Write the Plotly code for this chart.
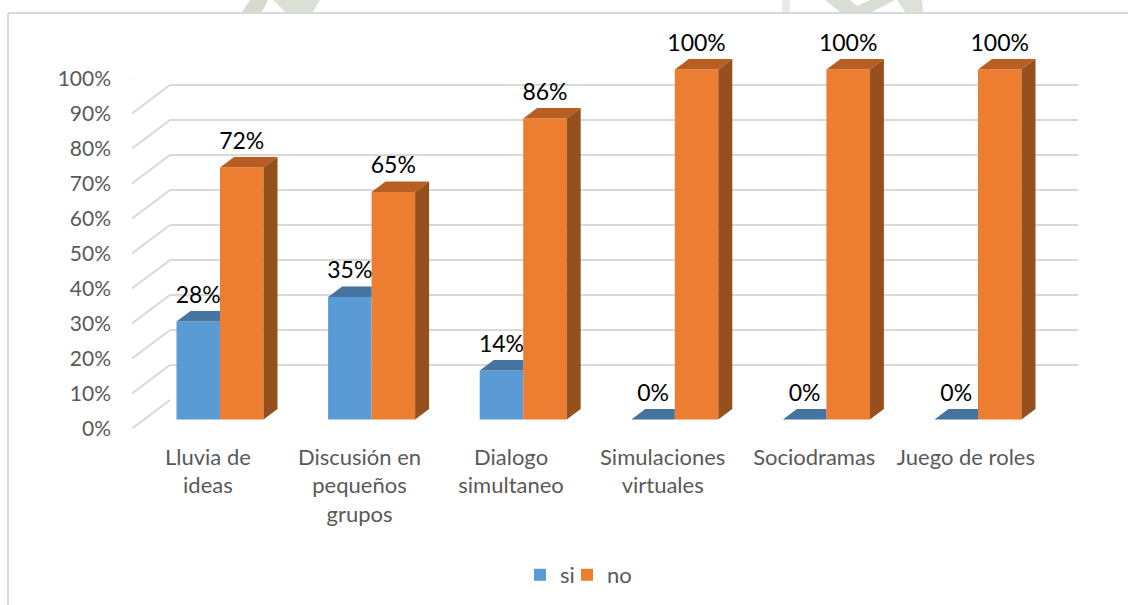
import plotly.graph_objects as go

categories = ["Lluvia de<br>ideas", "Discusión en<br>pequeños<br>grupos", "Dialogo<br>simultaneo",
              "Simulaciones<br>virtuales", "Sociodramas", "Juego de roles"]
si_values = [28, 35, 14, 0, 0, 0]
no_values = [72, 65, 86, 100, 100, 100]
percent_ticks = [0, 10, 20, 30, 40, 50, 60, 70, 80, 90, 100]

W, H = 1128, 605
STEP = 151.6      # px per category
UNIT = 3.5        # px per percent
X0 = 220          # px of first category centre
BAR = 43.5 / STEP
BAR_DX, BAR_DY = 14 / STEP, 10.5 / UNIT
WALL_DX, WALL_DY = 38 / STEP, 28.5 / UNIT
BLUE, ORANGE = "#5B9BD5", "#ED7D31"
BLUE_TOP, ORANGE_TOP, ORANGE_SIDE = "#44749F", "#B85E23", "#96501D"
GRID = "#D9D9D9"
LABEL = "#595959"
FONT = "Lato"

def xfrac(px): return px / W
def yfrac(py): return 1 - py / H
def xval(px): return (px - X0) / STEP

idx = list(range(len(categories)))
fig = go.Figure()

def poly(xs, ys, color):
    fig.add_trace(go.Scatter(x=xs, y=ys, mode="lines", fill="toself", fillcolor=color,
                             line=dict(width=0), hoverinfo="skip", showlegend=False,
                             xaxis="x2", yaxis="y2"))

# wall grid carrier (first subplot, stays below everything)
fig.add_trace(go.Scatter(x=[0], y=[0], mode="markers", marker=dict(opacity=0), hoverinfo="skip",
                         showlegend=False, xaxis="x", yaxis="y"))

# front faces
fig.add_trace(go.Bar(x=idx, y=si_values, name="si", marker=dict(color=BLUE, line=dict(width=0)),
                     xaxis="x2", yaxis="y2", legend="legend"))
fig.add_trace(go.Bar(x=idx, y=no_values, name="no", marker=dict(color=ORANGE, line=dict(width=0)),
                     xaxis="x2", yaxis="y2", legend="legend2"))

# 3D faces derived from the values
for i, s, n in zip(idx, si_values, no_values):
    # blue top, cut where the orange front begins
    poly([i - BAR, i, i, i - BAR + BAR_DX, i - BAR],
         [s, s, s + BAR_DY, s + BAR_DY, s], BLUE_TOP)
    # orange top
    poly([i, i + BAR, i + BAR + BAR_DX, i + BAR_DX, i],
         [n, n, n + BAR_DY, n + BAR_DY, n], ORANGE_TOP)
    # orange side
    poly([i + BAR, i + BAR + BAR_DX, i + BAR + BAR_DX, i + BAR, i + BAR],
         [0, BAR_DY, n + BAR_DY, n, 0], ORANGE_SIDE)

# slanted floor-to-wall grid segments
dx, dy = [], []
for t in percent_ticks:
    dx += [xval(132), xval(132) + WALL_DX, None]
    dy += [t, t + WALL_DY, None]
fig.add_trace(go.Scatter(x=dx, y=dy, mode="lines", line=dict(color=GRID, width=2),
                         hoverinfo="skip", showlegend=False, xaxis="x2", yaxis="y3"))

# value labels
LIFT = 24.5 / UNIT
fig.add_trace(go.Scatter(x=[i - BAR / 2 for i in idx], y=[v + LIFT for v in si_values],
                         text=[f"{v}%" for v in si_values], mode="text", textposition="middle center",
                         textfont=dict(family=FONT, size=23, color="black"), cliponaxis=False,
                         hoverinfo="skip", showlegend=False, xaxis="x2", yaxis="y2"))
fig.add_trace(go.Scatter(x=[i + BAR / 2 for i in idx], y=[v + LIFT for v in no_values],
                         text=[f"{v}%" for v in no_values], mode="text", textposition="middle center",
                         textfont=dict(family=FONT, size=23, color="black"), cliponaxis=False,
                         hoverinfo="skip", showlegend=False, xaxis="x2", yaxis="y2"))

frame = dict(color="#D9D9D9", width=2)

def wm(points, color):
    path = "M" + "L".join(f"{xfrac(px)},{yfrac(py)}" for px, py in points) + "Z"
    return dict(type="path", xref="paper", yref="paper", path=path, fillcolor=color,
                line=dict(width=0), layer="below")

legend_style = dict(orientation="h", xanchor="left", yanchor="middle",
                    font=dict(family=FONT, size=22, color=LABEL), bgcolor="rgba(0,0,0,0)")

fig.update_layout(
    width=W, height=H, margin=dict(l=0, r=0, t=0, b=0, autoexpand=False), autosize=False,
    paper_bgcolor="white", plot_bgcolor="rgba(0,0,0,0)",
    barmode="group", bargap=1 - 2 * BAR, bargroupgap=0,
    font=dict(family=FONT, size=21, color=LABEL),
    # wall plane
    xaxis=dict(domain=[xfrac(170), xfrac(1078)], range=[0, 1], showticklabels=False, ticks="",
               showgrid=False, zeroline=False, showline=False, fixedrange=True),
    yaxis=dict(domain=[yfrac(400), yfrac(50)], range=[0, 100], tickvals=percent_ticks,
               showticklabels=False, ticks="", showgrid=True, gridcolor=GRID, gridwidth=2,
               zeroline=False, showline=False, fixedrange=True),
    # front plane holding the bars
    xaxis2=dict(domain=[xfrac(132), xfrac(1078)], range=[xval(132), xval(1078)], anchor="y2",
                tickmode="array", tickvals=[i - 0.08 for i in idx], ticktext=categories,
                ticks="", showgrid=False, zeroline=False, showline=False, ticklabelstandoff=12,
                tickfont=dict(family=FONT, size=22, color=LABEL), fixedrange=True),
    yaxis2=dict(domain=[yfrac(429.5), yfrac(30.5)], range=[-10 / UNIT, 389 / UNIT], anchor="x2",
                showticklabels=False, ticks="", showgrid=False, zeroline=False, showline=False,
                fixedrange=True),
    # front edge carrying the percent labels
    yaxis3=dict(domain=[yfrac(428.5), yfrac(78.5)], range=[0, 100], anchor="x2",
                tickvals=percent_ticks, ticktext=[f"{t}%" for t in percent_ticks],
                ticks="", showgrid=False, zeroline=False, showline=False, ticklabelstandoff=20,
                tickfont=dict(family=FONT, size=21, color=LABEL), fixedrange=True),
    legend=dict(x=xfrac(520), y=yfrac(575), **legend_style),
    legend2=dict(x=xfrac(567), y=yfrac(575), **legend_style),
    shapes=[
        wm([(250, 0), (268, 0), (262, 12), (242, 12)], "#D5DBCF"),
        wm([(273, 0), (320, 0), (313, 12), (285, 12)], "#DCE1D7"),
        wm([(782, 0), (790, 0), (790, 12), (782, 12)], "#E8EAE6"),
        wm([(825, 0), (850, 0), (857, 6), (870, 0), (895, 0), (872, 12), (840, 12)], "#D9DFD4"),
        wm([(897, 0), (922, 0), (923, 12), (905, 12)], "#DDE2D8"),
        dict(type="line", xref="paper", yref="paper", x0=xfrac(8), x1=1, y0=yfrac(13), y1=yfrac(13), line=frame),
        dict(type="line", xref="paper", yref="paper", x0=xfrac(8), x1=xfrac(8), y0=yfrac(13), y1=0, line=frame),
    ],
)
fig.write_html("out.html", post_script="document.body.style.margin='0';",
               config=dict(displayModeBar=False))
